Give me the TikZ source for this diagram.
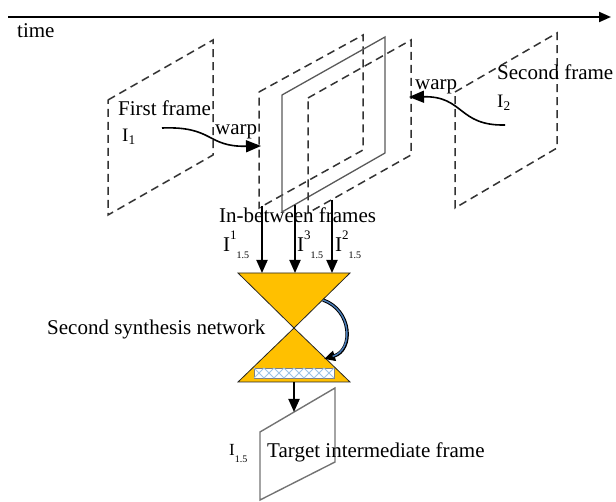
\documentclass[tikz,border=0pt]{standalone}
\usepackage{fontspec}
\setmainfont{Liberation Serif}
\usetikzlibrary{arrows.meta}
\definecolor{hgfill}{HTML}{FFC000}
\definecolor{zigblue}{HTML}{9DC3E6}
\definecolor{curvblue}{HTML}{4A7EBB}

\newcommand{\Ilab}[1]{I\raisebox{12pt}{\fontsize{13}{13}\selectfont #1}\raisebox{-7pt}{\fontsize{10}{10}\selectfont 1.5}}

\begin{document}
\begin{tikzpicture}[x=1pt, y=-1pt,
  font=\fontsize{21}{25}\selectfont,
  dframe/.style={draw=black!80, line width=1.5pt, dash pattern=on 8pt off 5pt},
  sframe/.style={draw=black!65, line width=1.3pt},
  txt/.style={inner sep=0pt, anchor=base west},
  arrow/.style={-{Triangle[length=13pt,width=11pt]}, line width=1.8pt},
  warparrow/.style={-{Triangle[length=15pt,width=12pt]}, line width=1.6pt}
]
\useasboundingbox (0,0) rectangle (616,502);

% time axis
\coordinate (t0) at (8,17);
\coordinate (t1) at (611,17);
\draw[-{Triangle[length=12pt,width=10pt]}, line width=2pt] (t0) -- (t1);
\node[txt] (time) at (17,38) {time};

% first frame
\coordinate (fa) at (108,100);
\coordinate (fb) at (213,40);
\coordinate (fc) at (213,155);
\coordinate (fd) at (108,215);
\draw[dframe] (fa) -- (fb) -- (fc) -- (fd) -- cycle;
\node[txt] (first) at (118,116) {First frame};
\node[txt, font=\fontsize{19}{23}\selectfont] (i1) at (122,142) {I\textsubscript{1}};

% in-between frames
\coordinate (ma) at (259,92);
\coordinate (mb) at (363,35);
\coordinate (mc) at (363,150);
\coordinate (md) at (259,208);
\draw[dframe] (ma) -- (mb) -- (mc) -- (md) -- cycle;
\coordinate (na) at (282,95);
\coordinate (nb) at (385,37);
\coordinate (nc) at (385,153);
\coordinate (nd) at (282,212);
\draw[sframe] (na) -- (nb) -- (nc) -- (nd) -- cycle;
\coordinate (pa) at (308,98);
\coordinate (pb) at (411,40);
\coordinate (pc) at (411,155);
\coordinate (pd) at (308,213);
\draw[dframe] (pa) -- (pb) -- (pc) -- (pd) -- cycle;

% second frame
\coordinate (sa) at (455,92);
\coordinate (sb) at (557,33);
\coordinate (sc) at (557,148);
\coordinate (sd) at (455,208);
\draw[dframe] (sa) -- (sb) -- (sc) -- (sd) -- cycle;
\node[txt] (second) at (497,80) {Second frame};
\node[txt, font=\fontsize{19}{23}\selectfont] (i2) at (497,108) {I\textsubscript{2}};

% warps
\coordinate (w1s) at (162,128);
\coordinate (w1e) at (261,146);
\draw[warparrow] (w1s) .. controls (214,126) and (206,147) .. (w1e);
\node[txt] (warp1) at (215,135) {warp};
\coordinate (w2s) at (505,125);
\coordinate (w2e) at (409,97);
\draw[warparrow] (w2s) .. controls (458,126) and (464,96) .. (w2e);
\node[txt] (warp2) at (415,90) {warp};

% arrows into the network
\coordinate (a1s) at (262,206);
\coordinate (a2s) at (295,205);
\coordinate (a3s) at (332,200);
\coordinate (a1e) at (262,273);
\coordinate (a2e) at (295,273);
\coordinate (a3e) at (332,273);
\draw[arrow] (a1s) -- (a1e);
\draw[arrow] (a2s) -- (a2e);
\draw[arrow] (a3s) -- (a3e);
\node[txt] (between) at (219,223) {In-between frames};
\node[txt] (lab1) at (223,252) {\Ilab{1}};
\node[txt] (lab3) at (297,252) {\Ilab{3}};
\node[txt] (lab2) at (335,252) {\Ilab{2}};

% second synthesis network
\coordinate (htl) at (238,273);
\coordinate (htr) at (350,273);
\coordinate (hc) at (294,328);
\coordinate (hbl) at (238,382);
\coordinate (hbr) at (350,382);
\draw[fill=hgfill, draw=black!85, line width=0.8pt] (htl) -- (htr) -- (hc) -- cycle;
\draw[fill=hgfill, draw=black!85, line width=0.8pt] (hc) -- (hbr) -- (hbl) -- cycle;
\draw[fill=white, draw=black!50, line width=0.5pt] (254,368) rectangle (334,378);
\foreach \i in {0,...,3}{
  \draw[zigblue, line width=0.8pt] (254+20*\i,368) -- (264+20*\i,378) -- (274+20*\i,368);
  \draw[zigblue, line width=0.8pt] (254+20*\i,378) -- (264+20*\i,368) -- (274+20*\i,378);
}
\coordinate (c1) at (323,300);
\coordinate (c2) at (324,359);
\draw[line width=3.4pt, -{Triangle[length=11pt,width=10pt]}] (c1) .. controls (352,310) and (354,350) .. (c2);
\draw[line width=1.4pt, curvblue, shorten >=9pt] (c1) .. controls (352,310) and (354,350) .. (c2);
\node[txt] (synth) at (47,335) {Second synthesis network};

% target frame
\coordinate (ta) at (260,432);
\coordinate (tb) at (335,388);
\coordinate (tc) at (335,462);
\coordinate (td) at (260,500);
\draw[draw=black!55, line width=1.4pt] (ta) -- (tb) -- (tc) -- (td) -- cycle;
\coordinate (o1) at (294,382);
\coordinate (o2) at (294,412);
\draw[arrow] (o1) -- (o2);
\node[txt, font=\fontsize{17}{20}\selectfont] (i15) at (229,456) {I\raisebox{-7pt}{\fontsize{10}{10}\selectfont 1.5}};
\node[txt] (target) at (267,457) {Target intermediate frame};
\end{tikzpicture}
\end{document}
